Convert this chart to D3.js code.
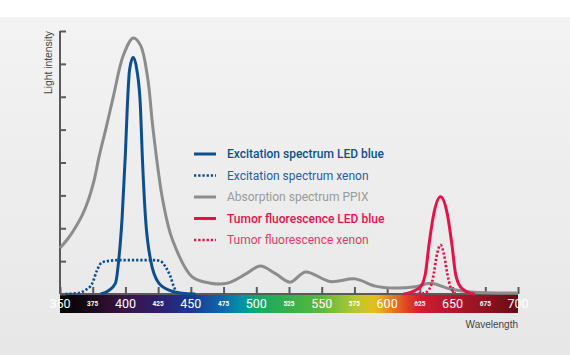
<!DOCTYPE html>
<html><head><meta charset="utf-8">
<script src="https://cdn.jsdelivr.net/npm/d3@7"></script>
<style>
html,body{margin:0;padding:0;background:#fff;}
svg{display:block;}
</style></head>
<body>
<svg id="c" width="570" height="355"></svg>
<script>
// ---- data ----
const xMajorLabels = [350, 400, 450, 500, 550, 600, 650, 700];
const xMinorLabels = [375, 425, 475, 525, 575, 625, 675];
const yTicks = [0, 1, 2, 3, 4, 5, 6, 7, 8];

// [wavelength nm, intensity]
const absorptionPPIX = [
  [350, 1.40], [356, 1.68], [362, 2.04], [367, 2.40], [372, 2.90], [376, 3.45], [380, 4.20], [385.5, 5.10], [391, 6.05], [398.5, 7.27], [406, 7.79],
  [411.5, 7.57], [417, 6.57], [421, 5.05], [428.5, 2.86], [436, 1.64], [451, 0.52], [465, 0.33],
  [478, 0.33], [492, 0.61], [503, 0.85], [515, 0.61], [526, 0.36], [537.5, 0.67], [556.5, 0.38],
  [575.5, 0.46], [591, 0.24], [605, 0.18], [621.5, 0.22], [633, 0.33], [648.5, 0.15], [664, 0.06], [700, 0.03]
];
const excitationLED = [
  [381, 0], [387, 0.1], [392.4, 0.33], [394.9, 1.04], [397.5, 2.34], [400, 4.29], [401.4, 5.66],
  [403.1, 6.8], [405.9, 7.2], [408.8, 6.8], [411.5, 5.66], [412.8, 4.29], [415.3, 2.34], [419.2, 1.04],
  [425.5, 0.33], [434.4, 0.1], [443.4, 0.02], [453.5, 0]
];
const excitationXenon = [
  [354, 0], [364, 0.03], [369.5, 0.12], [374.6, 0.32], [378.4, 0.73], [381.7, 0.95], [384.8, 0.99],
  [394.7, 1.03], [423, 1.03], [426.8, 1.0], [430.6, 0.83], [434.4, 0.53], [437, 0.22], [439.6, 0.02]
];
const fluorescenceLED = [
  [612.5, 0], [615.3, 0.02], [625.5, 0.22], [629.3, 0.63], [631.8, 1.44], [635.7, 2.45], [640.8, 2.96],
  [645.9, 2.45], [649.7, 1.44], [652.2, 0.63], [656, 0.22], [663.7, 0.02], [667, 0]
];
const fluorescenceXenon = [
  [617, 0], [628, 0.02], [633.2, 0.22], [635.7, 0.63], [637.7, 1.13], [640.8, 1.49],
  [643.8, 1.13], [645.9, 0.63], [648.4, 0.22], [652.2, 0.02]
];
const legendLabels = [
  "Excitation spectrum LED blue",
  "Excitation spectrum xenon",
  "Absorption spectrum PPIX",
  "Tumor fluorescence LED blue",
  "Tumor fluorescence xenon"
];
const spectrumStops = [
  [350, "#000000"], [375, "#1e0a1c"], [400, "#3a1448"], [425, "#2c1e6c"], [450, "#1c3890"],
  [475, "#0c6aae"], [490, "#0096a4"], [500, "#14a868"], [525, "#36b048"], [550, "#5cb842"],
  [575, "#b4c830"], [590, "#e4c020"], [600, "#e69022"], [615, "#de4424"], [625, "#d21c30"],
  [650, "#b2182a"], [675, "#8e1420"], [700, "#680a10"]
];

// ---- layout ----
const svg = d3.select("#c");
const W = 570, H = 355;
const x = d3.scaleLinear().domain([350, 700]).range([60, 518]);
const y = d3.scaleLinear().domain([0, 8]).range([294, 31]);

const defs = svg.append("defs");
const bg = defs.append("linearGradient").attr("id", "bg").attr("x1", 0).attr("y1", 0).attr("x2", 0).attr("y2", 1);
bg.append("stop").attr("offset", "0%").attr("stop-color", "#f3f3f3");
bg.append("stop").attr("offset", "100%").attr("stop-color", "#e7e7e7");

svg.append("rect").attr("width", W).attr("height", H).attr("fill", "#fff");
svg.append("rect").attr("x", 0).attr("y", 17).attr("width", W).attr("height", H - 17).attr("fill", "url(#bg)");

// spectrum bar
const sg = defs.append("linearGradient").attr("id", "spec")
  .attr("gradientUnits", "userSpaceOnUse")
  .attr("x1", x(350)).attr("x2", x(700)).attr("y1", 0).attr("y2", 0);
spectrumStops.forEach(s => sg.append("stop")
  .attr("offset", ((s[0] - 350) / 350 * 100) + "%").attr("stop-color", s[1]));
svg.append("rect").attr("x", x(350)).attr("y", y(0)).attr("width", x(700) - x(350)).attr("height", 19)
  .attr("fill", "url(#spec)");

// axes
const axisColor = "#5a5a5a";
const xAxis = d3.axisTop(x).tickValues(d3.range(350, 701, 25)).tickSize(7).tickFormat("");
const gx = svg.append("g").attr("transform", `translate(0,${y(0)})`).call(xAxis);
gx.selectAll("path,line").attr("stroke", axisColor).attr("stroke-width", 2);
gx.select(".domain").attr("d", `M${x(350)},0H${x(700)}`);

const yAxis = d3.axisRight(y).tickValues(yTicks).tickSize(6).tickFormat("");
const gy = svg.append("g").attr("transform", `translate(${x(350)},0)`).call(yAxis);
gy.selectAll("path,line").attr("stroke", axisColor).attr("stroke-width", 2);
gy.select(".domain").attr("d", `M0,${y(8)}V${y(0)}`);

// x labels on bar
svg.append("g").selectAll("text").data(xMajorLabels).join("text")
  .attr("x", d => x(d)).attr("y", 308).attr("text-anchor", "middle")
  .attr("font-family", "Roboto, 'Liberation Sans', sans-serif").attr("font-size", 12.5)
  .attr("fill", "#fff").text(d => d);
svg.append("g").selectAll("text").data(xMinorLabels).join("text")
  .attr("x", d => x(d)).attr("y", 306).attr("text-anchor", "middle")
  .attr("font-family", "Roboto, 'Liberation Sans', sans-serif").attr("font-size", 6.5).attr("font-weight", 700)
  .attr("fill", "#fff").text(d => d);

// axis titles
svg.append("text").attr("transform", `translate(52,31) rotate(-90)`).attr("text-anchor", "end")
  .attr("font-family", "'Liberation Sans', Arial, sans-serif").attr("font-size", 10.3).attr("fill", "#444")
  .text("Light intensity");
svg.append("text").attr("x", 518).attr("y", 328).attr("text-anchor", "end")
  .attr("font-family", "'Liberation Sans', Arial, sans-serif").attr("font-size", 10).attr("fill", "#444")
  .text("Wavelength");

// curves
const line = d3.line().x(d => x(d[0])).y(d => y(d[1])).curve(d3.curveMonotoneX);
const smooth = d3.line().x(d => x(d[0])).y(d => y(d[1])).curve(d3.curveCatmullRom.alpha(0.5));
const BLUE = "#0d4f8e", RED = "#e8104a", GRAY = "#8c8c8c";
const series = [
  { data: absorptionPPIX, color: GRAY, dash: null, w: 3, gen: smooth },
  { data: excitationLED, color: BLUE, dash: null, w: 3, gen: line },
  { data: excitationXenon, color: BLUE, dash: "2.3,1.9", w: 2.6, gen: line },
  { data: fluorescenceLED, color: RED, dash: null, w: 3, gen: line },
  { data: fluorescenceXenon, color: RED, dash: "2.3,1.9", w: 2.6, gen: line }
];
series.forEach(s => {
  svg.append("path").datum(s.data).attr("d", s.gen).attr("fill", "none")
    .attr("stroke", s.color).attr("stroke-width", s.w)
    .attr("stroke-dasharray", s.dash).attr("stroke-linejoin", "round");
});

// legend
const legendStyle = [
  { color: BLUE, dash: null, text: "#124e8c", weight: 500 },
  { color: BLUE, dash: "2.3,1.9", text: "#2b5d94", weight: 400 },
  { color: GRAY, dash: null, text: "#9a9a9a", weight: 400 },
  { color: RED, dash: null, text: "#e3114b", weight: 500 },
  { color: RED, dash: "2.3,1.9", text: "#e8356b", weight: 400 }
];
const lg = svg.append("g");
legendLabels.forEach((t, i) => {
  const yy = 154 + i * 21.5;
  const st = legendStyle[i];
  lg.append("line").attr("x1", 194).attr("x2", 216).attr("y1", yy).attr("y2", yy)
    .attr("stroke", st.color).attr("stroke-width", st.dash ? 2.6 : 3).attr("stroke-dasharray", st.dash);
  lg.append("text").attr("x", 227).attr("y", yy + 4.3)
    .attr("font-family", "Roboto, sans-serif").attr("font-size", 12).attr("font-weight", st.weight)
    .attr("fill", st.text).text(t);
});
</script>
</body></html>
